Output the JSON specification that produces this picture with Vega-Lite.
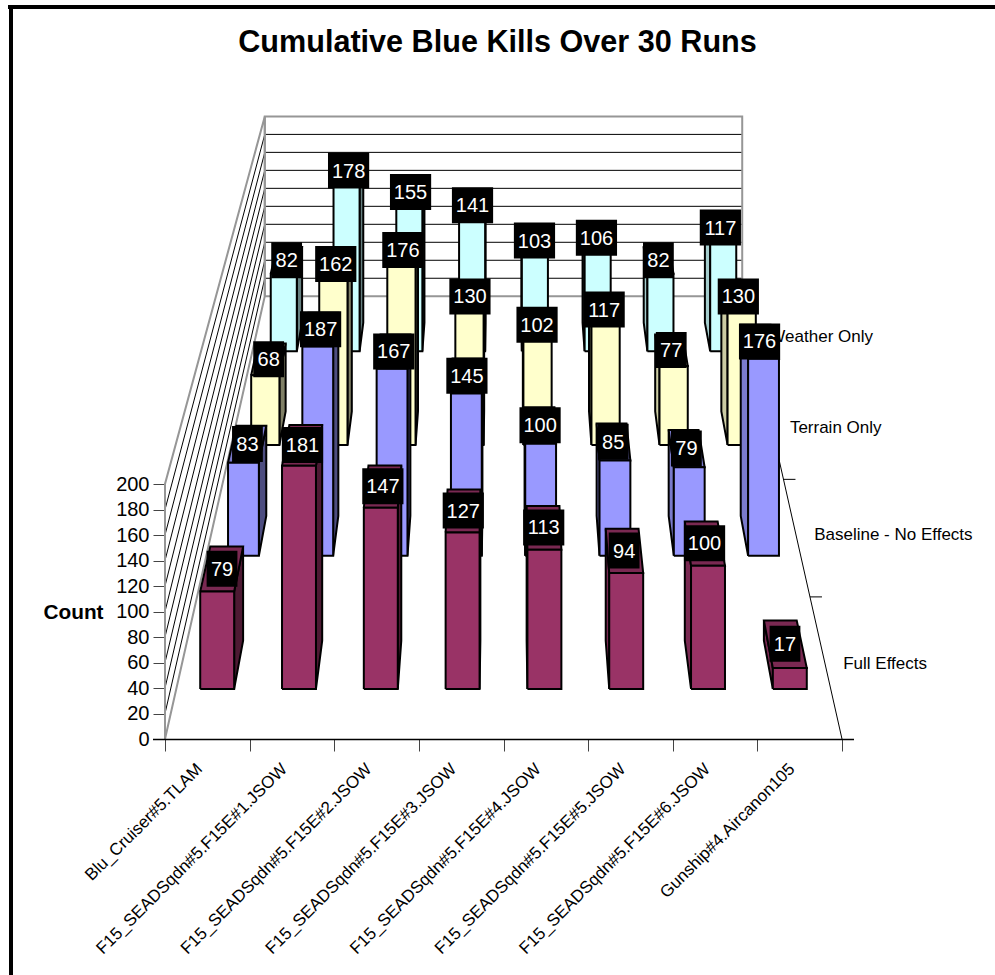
{
"$schema":"https://vega.github.io/schema/vega-lite/v6.json",
"width":995,"height":975,"padding":0,"autosize":{"type":"none"},"background":"white",
"title":{"text":"Cumulative Blue Kills Over 30 Runs","font":"Liberation Sans","fontSize":30.6,"fontWeight":"bold","color":"black","anchor":"middle","frame":"group","offset":0,"dy":59,"dx":0},
"config":{"view":{"stroke":null},"font":"Liberation Sans"},
"datasets":{
"kills":[
{"run":"Blu_Cruiser#5.TLAM","effect":"Weather Only","count":82},
{"run":"F15_SEADSqdn#5.F15E#1.JSOW","effect":"Weather Only","count":178},
{"run":"F15_SEADSqdn#5.F15E#2.JSOW","effect":"Weather Only","count":155},
{"run":"F15_SEADSqdn#5.F15E#3.JSOW","effect":"Weather Only","count":141},
{"run":"F15_SEADSqdn#5.F15E#4.JSOW","effect":"Weather Only","count":103},
{"run":"F15_SEADSqdn#5.F15E#5.JSOW","effect":"Weather Only","count":106},
{"run":"F15_SEADSqdn#5.F15E#6.JSOW","effect":"Weather Only","count":82},
{"run":"Gunship#4.Aircanon105","effect":"Weather Only","count":117},
{"run":"Blu_Cruiser#5.TLAM","effect":"Terrain Only","count":68},
{"run":"F15_SEADSqdn#5.F15E#1.JSOW","effect":"Terrain Only","count":162},
{"run":"F15_SEADSqdn#5.F15E#2.JSOW","effect":"Terrain Only","count":176},
{"run":"F15_SEADSqdn#5.F15E#3.JSOW","effect":"Terrain Only","count":130},
{"run":"F15_SEADSqdn#5.F15E#4.JSOW","effect":"Terrain Only","count":102},
{"run":"F15_SEADSqdn#5.F15E#5.JSOW","effect":"Terrain Only","count":117},
{"run":"F15_SEADSqdn#5.F15E#6.JSOW","effect":"Terrain Only","count":77},
{"run":"Gunship#4.Aircanon105","effect":"Terrain Only","count":130},
{"run":"Blu_Cruiser#5.TLAM","effect":"Baseline - No Effects","count":83},
{"run":"F15_SEADSqdn#5.F15E#1.JSOW","effect":"Baseline - No Effects","count":187},
{"run":"F15_SEADSqdn#5.F15E#2.JSOW","effect":"Baseline - No Effects","count":167},
{"run":"F15_SEADSqdn#5.F15E#3.JSOW","effect":"Baseline - No Effects","count":145},
{"run":"F15_SEADSqdn#5.F15E#4.JSOW","effect":"Baseline - No Effects","count":100},
{"run":"F15_SEADSqdn#5.F15E#5.JSOW","effect":"Baseline - No Effects","count":85},
{"run":"F15_SEADSqdn#5.F15E#6.JSOW","effect":"Baseline - No Effects","count":79},
{"run":"Gunship#4.Aircanon105","effect":"Baseline - No Effects","count":176},
{"run":"Blu_Cruiser#5.TLAM","effect":"Full Effects","count":79},
{"run":"F15_SEADSqdn#5.F15E#1.JSOW","effect":"Full Effects","count":181},
{"run":"F15_SEADSqdn#5.F15E#2.JSOW","effect":"Full Effects","count":147},
{"run":"F15_SEADSqdn#5.F15E#3.JSOW","effect":"Full Effects","count":127},
{"run":"F15_SEADSqdn#5.F15E#4.JSOW","effect":"Full Effects","count":113},
{"run":"F15_SEADSqdn#5.F15E#5.JSOW","effect":"Full Effects","count":94},
{"run":"F15_SEADSqdn#5.F15E#6.JSOW","effect":"Full Effects","count":100},
{"run":"Gunship#4.Aircanon105","effect":"Full Effects","count":17}
],
"gridTicks":[{"tick":20},{"tick":40},{"tick":60},{"tick":80},{"tick":100},{"tick":120},{"tick":140},{"tick":160},{"tick":180}],
"effects":[{"effect":"Full Effects"},{"effect":"Baseline - No Effects"},{"effect":"Terrain Only"},{"effect":"Weather Only"}],
"walls":[{"wall":"side"},{"wall":"back"}],
"frame":[{"frame":"edge"}]
},
"layer":[
{"layer":[
{"data":{"name":"frame"},"mark":{"type":"rule","stroke":"black","strokeWidth":4},"encoding":{"x":{"datum":11,"type":"quantitative","scale":{"domain":[0,995],"range":[0,995],"nice":false,"zero":false},"axis":null},"y":{"datum":5,"type":"quantitative","scale":{"domain":[0,975],"range":[0,975],"nice":false,"zero":false},"axis":null},"y2":{"datum":975}}},
{"data":{"name":"frame"},"mark":{"type":"rule","stroke":"black","strokeWidth":4},"encoding":{"x":{"datum":8,"type":"quantitative"},"x2":{"datum":995},"y":{"datum":7,"type":"quantitative"}}},
{"data":{"name":"gridTicks"},
"transform":[
{"calculate":"[{i:0,X:0,z:0},{i:1,X:0,z:4},{i:2,X:8,z:4}]","as":"verts"},
{"flatten":["verts"]},
{"calculate":"1/(1+0.1045*datum.verts.z)","as":"s"},
{"calculate":"503.5+(datum.verts.X-4)*84.625*datum.s","as":"px"},
{"calculate":"-763+1502*datum.s-datum.tick*1.275*datum.s","as":"py"},
{"calculate":"datum.verts.i","as":"i"}],
"mark":{"type":"line","stroke":"black","strokeWidth":1},
"encoding":{"x":{"field":"px","type":"quantitative"},"y":{"field":"py","type":"quantitative"},"detail":{"field":"tick"},"order":{"field":"i"}}},
{"data":{"name":"walls"},
"transform":[
{"calculate":"datum.wall==='side'?[{i:0,X:0,z:0,h:0},{i:1,X:0,z:4,h:0},{i:2,X:0,z:4,h:200},{i:3,X:0,z:0,h:200},{i:4,X:0,z:0,h:0}]:[{i:0,X:0,z:4,h:0},{i:1,X:8,z:4,h:0},{i:2,X:8,z:4,h:200},{i:3,X:0,z:4,h:200},{i:4,X:0,z:4,h:0}]","as":"verts"},
{"flatten":["verts"]},
{"calculate":"1/(1+0.1045*datum.verts.z)","as":"s"},
{"calculate":"503.5+(datum.verts.X-4)*84.625*datum.s","as":"px"},
{"calculate":"-763+1502*datum.s-datum.verts.h*1.275*datum.s","as":"py"},
{"calculate":"datum.verts.i","as":"i"}],
"mark":{"type":"line","stroke":"#969696","strokeWidth":2},
"encoding":{"x":{"field":"px","type":"quantitative"},"y":{"field":"py","type":"quantitative"},"detail":{"field":"wall"},"order":{"field":"i"}}},
{"data":{"name":"walls"},
"transform":[
{"filter":"datum.wall==='back'"},
{"calculate":"[{i:0,z:4},{i:1,z:0}]","as":"verts"},
{"flatten":["verts"]},
{"calculate":"1/(1+0.1045*datum.verts.z)","as":"s"},
{"calculate":"503.5+4*84.625*datum.s","as":"px"},
{"calculate":"-763+1502*datum.s","as":"py"},
{"calculate":"datum.verts.i","as":"i"}],
"mark":{"type":"line","stroke":"black","strokeWidth":1},
"encoding":{"x":{"field":"px","type":"quantitative"},"y":{"field":"py","type":"quantitative"},"order":{"field":"i"}}},
{"data":{"name":"frame"},"mark":{"type":"rule","stroke":"black","strokeWidth":1.5},"encoding":{"x":{"datum":153,"type":"quantitative"},"x2":{"datum":854},"y":{"datum":739.5,"type":"quantitative"}}},
{"data":{"name":"effects"},
"transform":[
{"calculate":"indexof(['Full Effects','Baseline - No Effects','Terrain Only','Weather Only'],datum.effect)","as":"r"},
{"calculate":"1/(1+0.1045*(datum.r+1))","as":"s"},
{"calculate":"503.5+4*84.625*datum.s","as":"px"},
{"calculate":"datum.px+12","as":"px2"},
{"calculate":"-763+1502*datum.s","as":"py"}],
"mark":{"type":"rule","stroke":"black","strokeWidth":1},
"encoding":{"x":{"field":"px","type":"quantitative"},"x2":{"field":"px2"},"y":{"field":"py","type":"quantitative"}}},
{"data":{"name":"effects"},
"transform":[
{"calculate":"indexof(['Full Effects','Baseline - No Effects','Terrain Only','Weather Only'],datum.effect)","as":"r"},
{"calculate":"1/(1+0.1045*(datum.r+0.5))","as":"s"},
{"calculate":"503.5+4*84.625*datum.s","as":"px"},
{"calculate":"-763+1502*datum.s","as":"py"}],
"mark":{"type":"text","align":"left","baseline":"middle","dx":18,"fontSize":17,"font":"Liberation Sans","fill":"black"},
"encoding":{"x":{"field":"px","type":"quantitative"},"y":{"field":"py","type":"quantitative"},"text":{"field":"effect"}}},
{"data":{"name":"kills"},
"transform":[
{"calculate":"indexof(['Blu_Cruiser#5.TLAM','F15_SEADSqdn#5.F15E#1.JSOW','F15_SEADSqdn#5.F15E#2.JSOW','F15_SEADSqdn#5.F15E#3.JSOW','F15_SEADSqdn#5.F15E#4.JSOW','F15_SEADSqdn#5.F15E#5.JSOW','F15_SEADSqdn#5.F15E#6.JSOW','Gunship#4.Aircanon105'],datum.run)","as":"c"},
{"calculate":"indexof(['Full Effects','Baseline - No Effects','Terrain Only','Weather Only'],datum.effect)","as":"r"},
{"calculate":"datum.c+0.2925","as":"xl"},
{"calculate":"datum.c+0.7075","as":"xr"},
{"calculate":"datum.c<4?datum.xr:datum.xl","as":"xs"},
{"calculate":"datum.r+0.33","as":"zf"},
{"calculate":"datum.r+0.67","as":"zb"},
{"calculate":"[{f:datum.c<4?'right':'left',i:0,X:datum.xs,z:datum.zf,h:0},{f:datum.c<4?'right':'left',i:1,X:datum.xs,z:datum.zb,h:0},{f:datum.c<4?'right':'left',i:2,X:datum.xs,z:datum.zb,h:datum.count},{f:datum.c<4?'right':'left',i:3,X:datum.xs,z:datum.zf,h:datum.count},{f:datum.c<4?'right':'left',i:4,X:datum.xs,z:datum.zf,h:0},{f:'top',i:0,X:datum.xl,z:datum.zf,h:datum.count},{f:'top',i:1,X:datum.xr,z:datum.zf,h:datum.count},{f:'top',i:2,X:datum.xr,z:datum.zb,h:datum.count},{f:'top',i:3,X:datum.xl,z:datum.zb,h:datum.count},{f:'top',i:4,X:datum.xl,z:datum.zf,h:datum.count},{f:'front',i:0,X:datum.xl,z:datum.zf,h:0},{f:'front',i:1,X:datum.xr,z:datum.zf,h:0},{f:'front',i:2,X:datum.xr,z:datum.zf,h:datum.count},{f:'front',i:3,X:datum.xl,z:datum.zf,h:datum.count},{f:'front',i:4,X:datum.xl,z:datum.zf,h:0}]","as":"verts"},
{"flatten":["verts"]},
{"calculate":"1/(1+0.1045*datum.verts.z)","as":"s"},
{"calculate":"503.5+(datum.verts.X-4)*84.625*datum.s","as":"px"},
{"calculate":"-763+1502*datum.s-datum.verts.h*1.275*datum.s","as":"py"},
{"calculate":"datum.verts.i","as":"i"},
{"calculate":"datum.effect+' '+datum.verts.f","as":"shade"},
{"calculate":"datum.shade+' '+datum.c","as":"key"}],
"mark":{"type":"line","stroke":"black","strokeWidth":2,"strokeJoin":"miter"},
"encoding":{"x":{"field":"px","type":"quantitative"},"y":{"field":"py","type":"quantitative"},"detail":{"field":"key"},"order":{"field":"i"},
"fill":{"field":"shade","type":"nominal","legend":null,"scale":{
"domain":["Full Effects front","Full Effects top","Full Effects right","Full Effects left","Baseline - No Effects front","Baseline - No Effects top","Baseline - No Effects right","Baseline - No Effects left","Terrain Only front","Terrain Only top","Terrain Only right","Terrain Only left","Weather Only front","Weather Only top","Weather Only right","Weather Only left"],
"range":["#993366","#7a2952","#4d1a33","#7a2952","#9999ff","#7a7acc","#4d4d80","#7a7acc","#ffffcc","#cccca3","#808066","#cccca3","#ccffff","#a3cccc","#668080","#a3cccc"]}}}},
{"data":{"name":"kills"},
"transform":[
{"calculate":"indexof(['Blu_Cruiser#5.TLAM','F15_SEADSqdn#5.F15E#1.JSOW','F15_SEADSqdn#5.F15E#2.JSOW','F15_SEADSqdn#5.F15E#3.JSOW','F15_SEADSqdn#5.F15E#4.JSOW','F15_SEADSqdn#5.F15E#5.JSOW','F15_SEADSqdn#5.F15E#6.JSOW','Gunship#4.Aircanon105'],datum.run)","as":"c"},
{"calculate":"indexof(['Full Effects','Baseline - No Effects','Terrain Only','Weather Only'],datum.effect)","as":"r"},
{"calculate":"1/(1+0.1045*(datum.r+0.5))","as":"s"},
{"calculate":"503.5+(datum.c+0.5-4)*84.625*datum.s","as":"px"},
{"calculate":"-763+1502*datum.s-datum.count*1.275*datum.s","as":"py"},
{"calculate":"(length(toString(datum.count))*10.4+10)/2","as":"hw"},
{"calculate":"datum.px-datum.hw","as":"bx"},
{"calculate":"datum.px+datum.hw","as":"bx2"},
{"calculate":"datum.py-18","as":"by"},
{"calculate":"datum.py+18","as":"by2"}],
"layer":[
{"mark":{"type":"rect","fill":"black"},"encoding":{"x":{"field":"bx","type":"quantitative"},"x2":{"field":"bx2"},"y":{"field":"by","type":"quantitative"},"y2":{"field":"by2"}}},
{"mark":{"type":"text","fill":"white","fontSize":20,"font":"Liberation Sans","align":"center","baseline":"middle","dy":1},"encoding":{"x":{"field":"px","type":"quantitative"},"y":{"field":"py","type":"quantitative"},"text":{"field":"count","type":"quantitative"}}}
]}
]},
{"data":{"name":"kills"},
"mark":{"type":"point","opacity":0},
"encoding":{"x":{"field":"run","type":"nominal","scale":{"type":"band","domain":["Blu_Cruiser#5.TLAM","F15_SEADSqdn#5.F15E#1.JSOW","F15_SEADSqdn#5.F15E#2.JSOW","F15_SEADSqdn#5.F15E#3.JSOW","F15_SEADSqdn#5.F15E#4.JSOW","F15_SEADSqdn#5.F15E#5.JSOW","F15_SEADSqdn#5.F15E#6.JSOW","Gunship#4.Aircanon105"],"range":[165,842]},
"axis":{"orient":"bottom","offset":-236,"title":null,"tickBand":"extent","labelAngle":-45,"labelAlign":"right","labelBaseline":"middle","labelFontSize":17,"labelFont":"Liberation Sans","labelColor":"black","labelLimit":0,"labelOverlap":false,"labelPadding":15,"labelOffset":-8,"tickSize":12,"tickColor":"#444444","domain":false,"grid":false}}}},
{"data":{"name":"kills"},
"mark":{"type":"point","opacity":0},
"encoding":{"y":{"field":"count","type":"quantitative","scale":{"domain":[0,200],"range":[739,484],"nice":false},
"axis":{"orient":"left","offset":-165,"values":[0,20,40,60,80,100,120,140,160,180,200],"title":"Count","titleFont":"Liberation Sans","titleFontSize":20.8,"titleFontWeight":"bold","titleColor":"black","titleAngle":0,"titleAlign":"center","titleBaseline":"middle","titleX":-92,"titleY":612,"labelFontSize":20,"labelFont":"Liberation Sans","labelColor":"black","labelPadding":4,"tickSize":12,"tickColor":"#444444","domainColor":"#444444","grid":false}}}}
],
"resolve":{"scale":{"x":"independent","y":"independent"}}
}
